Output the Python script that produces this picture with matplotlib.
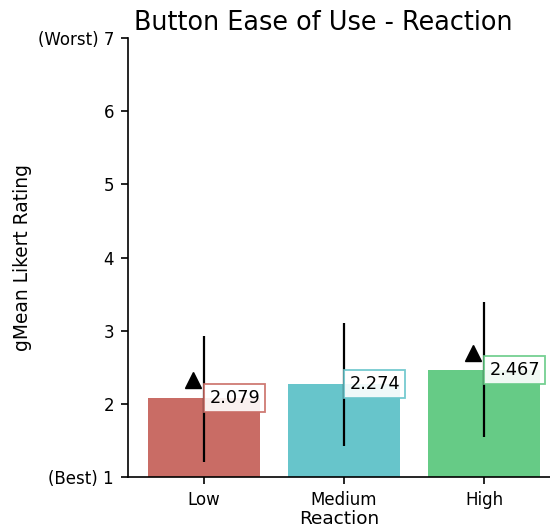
import matplotlib
matplotlib.use("Agg")
import matplotlib.pyplot as plt
import numpy as np

# Geometric mean ratings per reaction level
categories = ["Low", "Medium", "High"]
gmeans = [2.079, 2.274, 2.467]
ci_low = [1.21, 1.42, 1.54]
ci_high = [2.93, 3.11, 3.39]
# significance markers (nan = none)
marker_vals = [2.33, np.nan, 2.70]
colors = ["#c96c65", "#67c5cb", "#66cb86"]

fig = plt.figure(figsize=(5.5, 5.31), dpi=100)
ax = fig.add_axes([128 / 550, 1 - 477 / 531, 422 / 550, 439 / 531])

x = np.arange(len(categories))
ax.bar(x, np.array(gmeans) - 1, bottom=1, width=0.8, color=colors, zorder=2)
ax.vlines(x, ci_low, ci_high, color="black", linewidth=1.6, zorder=3)
ax.plot(x - 0.08, marker_vals, linestyle="none", marker="^", markersize=12,
        color="black", zorder=4)

for xi, val, c in zip(x, gmeans, colors):
    ax.annotate(f"{val:.3f}", xy=(xi, val), xytext=(3.8, 0),
                textcoords="offset points", ha="left", va="center",
                fontsize=12.8, zorder=5,
                bbox=dict(boxstyle="square,pad=0.28", facecolor="white",
                          edgecolor=c, alpha=0.9, linewidth=1.3))

ax.set_xlim(-0.543, 2.47)
ax.set_ylim(1, 7)
ax.set_yticks(range(1, 8))
ax.set_yticklabels(["(Best) 1", "2", "3", "4", "5", "6", "(Worst) 7"])
ax.set_xticks(x)
ax.set_xticklabels(categories)
ax.tick_params(labelsize=12, length=5, width=1.2, pad=5)
for s in ("top", "right"):
    ax.spines[s].set_visible(False)
for s in ("left", "bottom"):
    ax.spines[s].set_linewidth(1.2)

ax.set_xlabel("Reaction", fontsize=13.3, labelpad=1)
ax.set_ylabel("gMean Likert Rating", fontsize=13.4, labelpad=4)
ax.set_title("Button Ease of Use - Reaction", fontsize=18.4, x=0.462)

fig.savefig("out.png", dpi=100)
